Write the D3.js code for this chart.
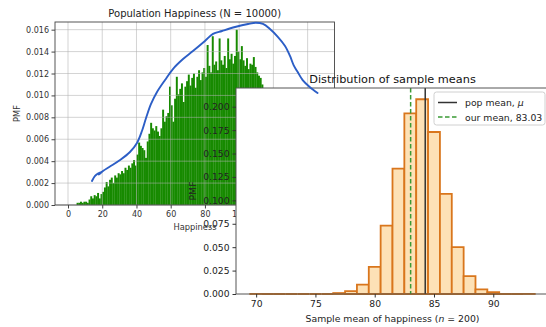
<!DOCTYPE html>
<html>
<head>
<meta charset="utf-8">
<script src="https://cdn.jsdelivr.net/npm/d3@7"></script>
<style>
  body { margin: 0; background: #fff; }
  svg { display: block; }
  text { font-family: "DejaVu Sans", sans-serif; }
</style>
</head>
<body>
<svg id="chart" width="546" height="327"></svg>
<script>
// ---- Population histogram: PMF for each integer happiness score, starting at 0
const popBinStart = 0;
const popPmf = [
  0, 0, 0, 0, 0,
  0.0002, 0.0002, 0.0003, 0.0002, 0.0003,
  0.0003, 0.0002, 0.0005, 0.0008, 0.0006,
  0.0009, 0.0008, 0.0011, 0.0006, 0.0010,
  0.0012, 0.0016, 0.0021, 0.0017, 0.0023,
  0.0025, 0.0020, 0.0027, 0.0025, 0.0029,
  0.0028, 0.0031, 0.0029, 0.0034, 0.0032,
  0.0036, 0.0034, 0.0038, 0.0041, 0.0036,
  0.0046, 0.0057, 0.0054, 0.0052, 0.0050,
  0.0043, 0.0058, 0.0065, 0.0075, 0.0070,
  0.0068, 0.0072, 0.0067, 0.0063, 0.0070,
  0.0087, 0.0076, 0.0081, 0.0084, 0.0108,
  0.0091, 0.0076, 0.0097, 0.0117, 0.0101,
  0.0106, 0.0111, 0.0094, 0.0108, 0.0113,
  0.0119, 0.0109, 0.0116, 0.0120, 0.0107,
  0.0117, 0.0123, 0.0114, 0.0121, 0.0125,
  0.0117, 0.0146, 0.0127, 0.0121, 0.0154,
  0.0128, 0.0131, 0.0123, 0.0152, 0.0132,
  0.0128, 0.0136, 0.0125, 0.0152, 0.0133,
  0.0138, 0.0129, 0.0136, 0.0160, 0.0140,
  0.0133, 0.0145, 0.0132, 0.0127, 0.0134,
  0.0124, 0.0129, 0.0128, 0.0135, 0.0126,
  0.0121, 0.0118, 0.0116, 0.0110, 0.0106,
  0.0103, 0.0104, 0.0098, 0.0095, 0.0088,
  0.0082, 0.0075, 0.0068, 0.0060, 0.0052,
  0.0046, 0.0039, 0.0032, 0.0027, 0.0021,
  0.0017, 0.0013, 0.0010, 0.0007, 0.0005,
  0.0004, 0.0003, 0.0002, 0.0002, 0.0001,
  0.0001, 0, 0, 0, 0,
  0, 0, 0, 0.0001
];
const popXTicks = [0, 20, 40, 60, 80, 100, 120, 140];
const popYTicks = [0, 0.002, 0.004, 0.006, 0.008, 0.010, 0.012, 0.014, 0.016];

// Hand-sketched trend curve over the population histogram: [happiness, pmf]
const sketchCurve = [
  [14.0, 0.00219], [15.8, 0.00265], [17.5, 0.00287], [19.3, 0.00301],
  [18.1, 0.00278], [20.4, 0.00310], [24.5, 0.00351], [30.4, 0.00411],
  [36.2, 0.00484], [40.3, 0.00566], [43.2, 0.00675], [45.6, 0.00794],
  [48.5, 0.00922], [52.0, 0.01031], [56.7, 0.01141], [61.3, 0.01241],
  [67.2, 0.01332], [73.0, 0.01405], [80.0, 0.01497], [84.7, 0.01561],
  [90.0, 0.01588], [97.6, 0.01624], [105.2, 0.01652], [109.8, 0.01663],
  [113.9, 0.01652], [118.0, 0.01606], [122.7, 0.01533], [126.8, 0.01451],
  [129.7, 0.01360], [131.8, 0.01277], [134.2, 0.01213], [137.1, 0.01140],
  [141.2, 0.01077], [145.8, 0.01022]
];

// ---- Sampling distribution of the mean (n = 200), unit-width bins from 69.5
const sampleBinStart = 69.5;
const sampleBinWidth = 1;
const sampleMeanPmf = [
  0.0001, 0, 0, 0, 0, 0, 0, 0.001, 0.003, 0.010, 0.029, 0.073,
  0.134, 0.193, 0.208, 0.173, 0.107, 0.050, 0.019, 0.005, 0.002, 0, 0, 0.0001
];
const sampleXTicks = [70, 75, 80, 85, 90];
const sampleYTicks = [0, 0.025, 0.05, 0.075, 0.1, 0.125, 0.15, 0.175, 0.2];
const popMean = 84.26;
const ourMean = 83.03;

const svg = d3.select("#chart");
const fmt3 = d3.format(".3f");

// ================= Population panel =================
const P = { left: 55, right: 334.5, top: 22, bottom: 205 };
const xPop = d3.scaleLinear().domain([-7.6, 155.7]).range([P.left, P.right]);
const yPop = d3.scaleLinear().domain([0, 0.0167]).range([P.bottom, P.top]);

const popG = svg.append("g");
popG.append("g").selectAll("rect")
  .data(popPmf.map((p, i) => ({ v: popBinStart + i, p })).filter(d => d.p > 0))
  .join("rect")
  .attr("x", d => xPop(d.v))
  .attr("width", d => xPop(d.v + 1) - xPop(d.v) + 0.25)
  .attr("y", d => yPop(d.p))
  .attr("height", d => yPop(0) - yPop(d.p))
  .attr("fill", "#178a00");

// grid drawn over the bars
const grid = popG.append("g").attr("stroke", "#b0b0b0").attr("stroke-opacity", 0.55).attr("stroke-width", 1);
grid.selectAll(".gx").data(popXTicks).join("line")
  .attr("x1", d => xPop(d)).attr("x2", d => xPop(d))
  .attr("y1", P.top).attr("y2", P.bottom);
grid.selectAll(".gy").data(popYTicks).join("line")
  .attr("x1", P.left).attr("x2", P.right)
  .attr("y1", d => yPop(d)).attr("y2", d => yPop(d));

popG.append("rect")
  .attr("x", P.left).attr("y", P.top)
  .attr("width", P.right - P.left).attr("height", P.bottom - P.top)
  .attr("fill", "none").attr("stroke", "#444").attr("stroke-width", 0.9);

const popXAxis = popG.append("g").attr("transform", `translate(0,${P.bottom})`)
  .call(d3.axisBottom(xPop).tickValues(popXTicks).tickSize(3.5).tickPadding(2.5));
const popYAxis = popG.append("g").attr("transform", `translate(${P.left},0)`)
  .call(d3.axisLeft(yPop).tickValues(popYTicks).tickFormat(fmt3).tickSize(3.5).tickPadding(2.5));
[popXAxis, popYAxis].forEach(a => {
  a.select(".domain").remove();
  a.selectAll(".tick line").attr("stroke", "#444");
  a.selectAll(".tick text").attr("fill", "#333").style("font-size", "8px");
});

popG.append("text").attr("x", (P.left + P.right) / 2).attr("y", 16.5)
  .attr("text-anchor", "middle").attr("fill", "#222").style("font-size", "10px")
  .text("Population Happiness (N = 10000)");
popG.append("text").attr("x", 195).attr("y", 229.5)
  .attr("text-anchor", "middle").attr("fill", "#333").style("font-size", "8.3px")
  .text("Happiness");
popG.append("text").attr("transform", `translate(19.5,${(P.top + P.bottom) / 2}) rotate(-90)`)
  .attr("text-anchor", "middle").attr("fill", "#333").style("font-size", "8.3px")
  .text("PMF");

// ================= Sample-mean panel =================
const S = { left: 236, right: 549, top: 88, bottom: 294 };
const xS = d3.scaleLinear().domain([68.3, 94.7]).range([S.left, S.right]);
const yS = d3.scaleLinear().domain([0, 0.22]).range([S.bottom, S.top]);

const sG = svg.append("g");
sG.append("rect").attr("x", S.left).attr("y", S.top)
  .attr("width", S.right - S.left).attr("height", S.bottom - S.top).attr("fill", "#fff");

sG.append("g").selectAll("path")
  .data(sampleMeanPmf.map((p, i) => ({ lo: sampleBinStart + i * sampleBinWidth, p })))
  .join("path")
  .attr("d", d => {
    const x0 = xS(d.lo), x1 = xS(d.lo + sampleBinWidth), y0 = yS(0), y1 = yS(d.p);
    return `M${x0},${y0}V${y1}H${x1}V${y0}Z`;
  })
  .attr("fill", "#fde1b6")
  .attr("stroke", "#d9761c")
  .attr("stroke-width", 1.8)
  .attr("stroke-linejoin", "miter");

sG.append("line")
  .attr("x1", xS(popMean)).attr("x2", xS(popMean)).attr("y1", S.top).attr("y2", S.bottom)
  .attr("stroke", "#333").attr("stroke-width", 1.5);
sG.append("line")
  .attr("x1", xS(ourMean)).attr("x2", xS(ourMean)).attr("y1", S.top).attr("y2", S.bottom)
  .attr("stroke", "#3a9a34").attr("stroke-width", 1.5).attr("stroke-dasharray", "4.5,2.5");

// spines
sG.append("path")
  .attr("d", `M${S.left},${S.bottom}V${S.top}H${S.right}V${S.bottom}Z`)
  .attr("fill", "none").attr("stroke", "#555").attr("stroke-width", 1);

const sXAxis = sG.append("g").attr("transform", `translate(0,${S.bottom})`)
  .call(d3.axisBottom(xS).tickValues(sampleXTicks).tickSize(3.5).tickPadding(3));
const sYAxis = sG.append("g").attr("transform", `translate(${S.left},0)`)
  .call(d3.axisLeft(yS).tickValues(sampleYTicks).tickFormat(fmt3).tickSize(3.5).tickPadding(3));
[sXAxis, sYAxis].forEach(a => {
  a.select(".domain").remove();
  a.selectAll(".tick line").attr("stroke", "#333");
  a.selectAll(".tick text").attr("fill", "#222").style("font-size", "9.2px");
});

sG.append("text").attr("x", (S.left + S.right) / 2).attr("y", 83)
  .attr("text-anchor", "middle").attr("fill", "#111").style("font-size", "11.3px")
  .text("Distribution of sample means");
const xl = sG.append("text").attr("x", (S.left + S.right) / 2).attr("y", 321.5)
  .attr("text-anchor", "middle").attr("fill", "#222").style("font-size", "9.3px");
xl.append("tspan").text("Sample mean of happiness (");
xl.append("tspan").style("font-style", "italic").text("n");
xl.append("tspan").text(" = 200)");
sG.append("text").attr("transform", `translate(196,${(S.top + S.bottom) / 2}) rotate(-90)`)
  .attr("text-anchor", "middle").attr("fill", "#222").style("font-size", "9.3px")
  .text("PMF");

// legend
const lg = sG.append("g").attr("transform", "translate(434,92)");
lg.append("rect").attr("width", 111).attr("height", 33).attr("rx", 2.5)
  .attr("fill", "#fff").attr("fill-opacity", 0.8).attr("stroke", "#d0d0d0").attr("stroke-width", 1);
lg.append("line").attr("x1", 4).attr("x2", 23).attr("y1", 10.5).attr("y2", 10.5)
  .attr("stroke", "#333").attr("stroke-width", 1.5);
lg.append("line").attr("x1", 4).attr("x2", 23).attr("y1", 25).attr("y2", 25)
  .attr("stroke", "#3a9a34").attr("stroke-width", 1.5).attr("stroke-dasharray", "4.5,2.5");
const t1 = lg.append("text").attr("x", 31).attr("y", 14).attr("fill", "#222").style("font-size", "9.3px");
t1.append("tspan").text("pop mean, ");
t1.append("tspan").style("font-style", "italic").text("μ");
lg.append("text").attr("x", 31).attr("y", 28.5).attr("fill", "#222").style("font-size", "9.3px")
  .text("our mean, " + ourMean.toFixed(2));

// ================= Sketched curve on top =================
svg.append("path")
  .datum(sketchCurve)
  .attr("d", d3.line().x(d => xPop(d[0])).y(d => yPop(d[1])).curve(d3.curveCatmullRom.alpha(0.5)))
  .attr("fill", "none").attr("stroke", "#2c5ec6").attr("stroke-width", 1.9)
  .attr("stroke-linecap", "round").attr("stroke-linejoin", "round");
</script>
</body>
</html>
